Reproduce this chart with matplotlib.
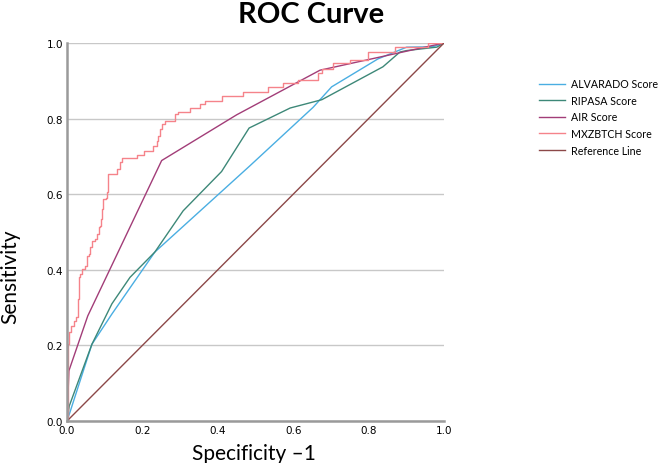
import matplotlib
matplotlib.use("Agg")
import matplotlib.pyplot as plt

# ROC curves (x = 1 - specificity, y = sensitivity)
alvarado_x = [0, 0.009, 0.066, 0.119, 0.233, 0.485, 0.653, 0.702, 0.825, 0.901, 0.97, 1.0]
alvarado_y = [0, 0.027, 0.203, 0.283, 0.447, 0.675, 0.830, 0.884, 0.958, 0.989, 0.99, 1.0]

ripasa_x = [0, 0.006, 0.066, 0.119, 0.167, 0.233, 0.308, 0.41, 0.483, 0.592, 0.676, 0.838, 0.883, 0.901, 0.981, 1.0]
ripasa_y = [0, 0.040, 0.203, 0.310, 0.380, 0.447, 0.556, 0.66, 0.775, 0.828, 0.850, 0.937, 0.976, 0.980, 0.989, 1.0]

air_x = [0, 0.005, 0.055, 0.251, 0.45, 0.671, 1.0]
air_y = [0, 0.133, 0.278, 0.689, 0.81, 0.928, 1.0]

# staircase: level y starts at x (steps-post)
mxz_x = [0, 0.003, 0.006, 0.011, 0.018, 0.024, 0.029, 0.031, 0.035, 0.040, 0.049, 0.053, 0.059,
         0.062, 0.066, 0.075, 0.080, 0.084, 0.088, 0.091, 0.092, 0.096, 0.103, 0.105, 0.110,
         0.132, 0.141, 0.145, 0.185, 0.205, 0.229, 0.238, 0.242, 0.247, 0.253, 0.260, 0.286,
         0.295, 0.326, 0.353, 0.366, 0.410, 0.468, 0.534, 0.574, 0.613, 0.666, 0.676, 0.706,
         0.751, 0.798, 0.870, 0.958, 1.0]
mxz_y = [0, 0.204, 0.235, 0.252, 0.265, 0.274, 0.322, 0.380, 0.389, 0.402, 0.411, 0.437, 0.441,
         0.459, 0.477, 0.481, 0.494, 0.512, 0.516, 0.534, 0.561, 0.587, 0.590, 0.605, 0.653,
         0.667, 0.684, 0.695, 0.704, 0.715, 0.728, 0.741, 0.755, 0.772, 0.786, 0.794, 0.812,
         0.817, 0.827, 0.839, 0.847, 0.860, 0.871, 0.883, 0.894, 0.903, 0.921, 0.932, 0.947,
         0.956, 0.976, 0.989, 1.0, 1.0]

ref_x = [0, 1]
ref_y = [0, 1]

ticks = [0.0, 0.2, 0.4, 0.6, 0.8, 1.0]

fig = plt.figure(figsize=(6.61, 4.64), dpi=100)
ax = fig.add_axes([0.1014, 0.0905, 0.5703, 0.8147])

ax.plot(alvarado_x, alvarado_y, color='#4aaee2', lw=1.0, label='ALVARADO Score')
ax.plot(ripasa_x, ripasa_y, color='#3d8878', lw=1.0, label='RIPASA Score')
ax.plot(air_x, air_y, color='#a23d78', lw=1.0, label='AIR Score')
ax.plot(mxz_x, mxz_y, color='#f5838a', lw=1.0, drawstyle='steps-post', label='MXZBTCH Score')
ax.plot(ref_x, ref_y, color='#8c4848', lw=1.0, label='Reference Line')

ax.set_xlim(0, 1)
ax.set_ylim(0, 1)
ax.set_xticks(ticks)
ax.set_yticks(ticks)
ax.set_xticklabels([f'{t:.1f}' for t in ticks])
ax.set_yticklabels([f'{t:.1f}' for t in ticks])
ax.tick_params(length=0, labelsize=7.5, pad=3)
ax.yaxis.grid(True, color='#c8c8c8', lw=1.0)
ax.set_axisbelow(True)
for s in ['top', 'right']:
    ax.spines[s].set_visible(False)
for s in ['left', 'bottom']:
    ax.spines[s].set_color('#9a9a9a')
    ax.spines[s].set_linewidth(1.8)

ax.set_xlabel('Specificity \u20131', fontsize=15, family='Lato')
ax.xaxis.set_label_coords(0.495, -0.057)
ax.set_ylabel('Sensitivity', fontsize=15, family='Lato')
ax.yaxis.set_label_coords(-0.125, 0.384)
fig.text(0.471, 0.968, 'ROC Curve', fontsize=21, family='Lato', fontweight='bold',
         ha='center', va='center')

leg = ax.legend(loc='upper left', bbox_to_anchor=(1.241, 0.918), frameon=False,
                prop={'family': 'Lato', 'size': 7.7}, handlelength=2.4,
                handletextpad=0.55, labelspacing=0.52, borderaxespad=0)

fig.savefig('out.png', dpi=100)
